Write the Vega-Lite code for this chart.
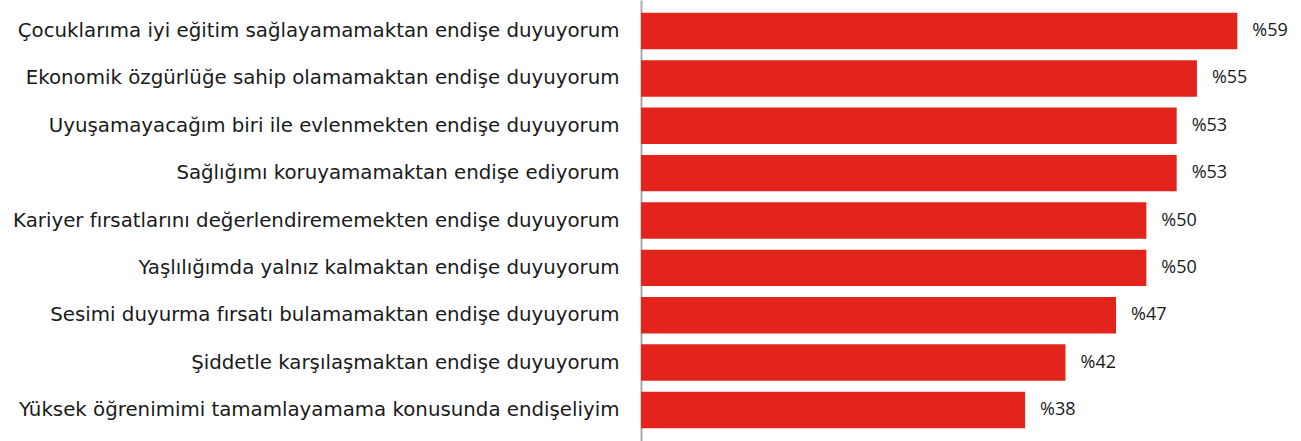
{
  "$schema": "https://vega.github.io/schema/vega-lite/v6.json",
  "autosize": {"type": "none"},
  "width": 660,
  "height": 441,
  "padding": {"left": 641, "top": 0, "right": 0, "bottom": 0},
  "background": "white",
  "config": {"view": {"stroke": null}},
  "data": {"values": [
    {"label": "Çocuklarıma iyi eğitim sağlayamamaktan endişe duyuyorum", "value": 59, "order": 1},
    {"label": "Ekonomik özgürlüğe sahip olamamaktan endişe duyuyorum", "value": 55, "order": 2},
    {"label": "Uyuşamayacağım biri ile evlenmekten endişe duyuyorum", "value": 53, "order": 3},
    {"label": "Sağlığımı koruyamamaktan endişe ediyorum", "value": 53, "order": 4},
    {"label": "Kariyer fırsatlarını değerlendirememekten endişe duyuyorum", "value": 50, "order": 5},
    {"label": "Yaşlılığımda yalnız kalmaktan endişe duyuyorum", "value": 50, "order": 6},
    {"label": "Sesimi duyurma fırsatı bulamamaktan endişe duyuyorum", "value": 47, "order": 7},
    {"label": "Şiddetle karşılaşmaktan endişe duyuyorum", "value": 42, "order": 8},
    {"label": "Yüksek öğrenimimi tamamlayamama konusunda endişeliyim", "value": 38, "order": 9}
  ]},
  "transform": [{"calculate": "'%' + datum.value", "as": "pct"}],
  "encoding": {
    "y": {
      "field": "label", "type": "nominal",
      "sort": {"field": "order", "order": "ascending"},
      "scale": {"paddingInner": 0.23, "paddingOuter": 0.27},
      "axis": {
        "title": null, "ticks": false, "labelPadding": 22,
        "labelFont": "DejaVu Sans", "labelFontSize": 19.8, "labelColor": "#1a1a1a",
        "labelLimit": 700,
        "domainColor": "#aaaaaa", "domainWidth": 2
      }
    },
    "x": {
      "field": "value", "type": "quantitative",
      "scale": {"domain": [0, 65.3], "nice": false},
      "axis": null
    }
  },
  "layer": [
    {"mark": {"type": "bar", "color": "#e3241d"}},
    {
      "mark": {"type": "text", "align": "left", "dx": 15, "font": "Open Sans", "fontSize": 18, "color": "#1a1a1a"},
      "encoding": {"text": {"field": "pct", "type": "nominal"}}
    }
  ]
}
